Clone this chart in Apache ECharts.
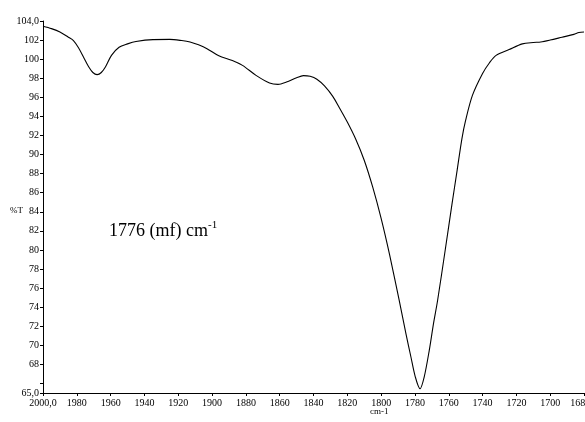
<!DOCTYPE html>
<html>
<head>
<meta charset="utf-8">
<script src="https://cdn.jsdelivr.net/npm/echarts@6/dist/echarts.min.js"></script>
<style>html,body{margin:0;padding:0;background:#fff;}#c{width:585px;height:422px;}</style>
</head>
<body>
<div id="c"></div>
<script>
var wavenumbers = [2000,1995,1990,1985,1982,1979,1976,1973,1970.5,1968,1965.5,1963,1959.5,1955,1950,1945,1935,1925,1918,1913,1908,1903,1896,1888,1882,1874,1866,1861,1856,1850,1846,1842,1838,1833.5,1828.6,1824.7,1820,1815,1810,1805,1800,1795,1789.3,1785.3,1782.4,1779.8,1777,1774.5,1771.5,1769,1766.6,1762,1758,1755,1752.2,1750,1746,1740,1736,1732,1724.3,1716.5,1710,1705.6,1700,1693,1686,1683,1680];
var transmittance = [103.45,103.2,102.85,102.3,101.95,101.2,100.2,99.2,98.6,98.38,98.6,99.2,100.4,101.25,101.6,101.85,102.05,102.07,101.95,101.8,101.5,101.1,100.35,99.87,99.35,98.3,97.5,97.36,97.6,98.05,98.27,98.2,97.9,97.2,96.1,94.9,93.4,91.6,89.4,86.6,83.3,79.5,74.7,71.2,68.8,66.7,65.45,66.7,69.5,72.3,74.7,80.1,84.9,88.4,91.67,93.6,96.2,98.5,99.6,100.4,101,101.6,101.75,101.8,102.0,102.3,102.6,102.8,102.85];
var yLabelValues = [65,68,70,72,74,76,78,80,82,84,86,88,90,92,94,96,98,100,102,104];
var yTickValues = [65,66,68,70,72,74,76,78,80,82,84,86,88,90,92,94,96,98,100,102,104];
var xEndLabels = [2000,1680];
var yAxisTitle = '%T';
var xAxisTitle = 'cm-1';
var annotationMain = '1776 (mf) cm';
var annotationSup = '-1';

var pts = wavenumbers.map(function(w,i){return [w, transmittance[i]];});
var font = '"Liberation Serif", "Times New Roman", serif';
var chart = echarts.init(document.getElementById('c'), null, {renderer:'canvas'});
chart.setOption({
  animation:false,
  backgroundColor:'#fff',
  grid:{left:43, right:1, top:21, bottom:29, containLabel:false, outerBoundsMode:'none'},
  xAxis:{
    type:'value', min:1680, max:2000, interval:20, inverse:true,
    axisLine:{show:true, onZero:false, lineStyle:{color:'#000', width:1}},
    axisTick:{show:true, length:3, lineStyle:{color:'#000'}},
    splitLine:{show:false},
    axisLabel:{color:'#000', fontFamily:font, fontSize:10, margin:5,
      showMinLabel:true, showMaxLabel:true, hideOverlap:false,
      formatter:function(v){return xEndLabels.indexOf(v)>=0 ? v+',0' : String(v);}}
  },
  yAxis:{
    type:'value', min:65, max:104,
    axisLine:{show:true, onZero:false, lineStyle:{color:'#000', width:1}},
    axisTick:{show:true, length:3, customValues:yTickValues, lineStyle:{color:'#000'}},
    splitLine:{show:false},
    axisLabel:{color:'#000', fontFamily:font, fontSize:10, margin:4, customValues:yLabelValues,
      formatter:function(v){return (v===65||v===104) ? v+',0' : String(v);}}
  },
  graphic:[
    {type:'text', left:10, top:206, style:{text:yAxisTitle, font:'9px '+font, fill:'#000'}},
    {type:'text', left:370, top:407, style:{text:xAxisTitle, font:'9px '+font, fill:'#000'}},
    {type:'text', left:109, top:220, style:{
      text:'{a|'+annotationMain+'}{b|'+annotationSup+'}',
      rich:{a:{fontFamily:font, fontSize:18, fill:'#000', color:'#000', verticalAlign:'bottom', lineHeight:20},
            b:{fontFamily:font, fontSize:11, fill:'#000', color:'#000', verticalAlign:'top', lineHeight:20}}}}
  ],
  series:[{
    type:'line', data:pts, showSymbol:false, smooth:0.3,
    lineStyle:{color:'#000', width:1.1}
  }]
});
</script>
</body>
</html>
